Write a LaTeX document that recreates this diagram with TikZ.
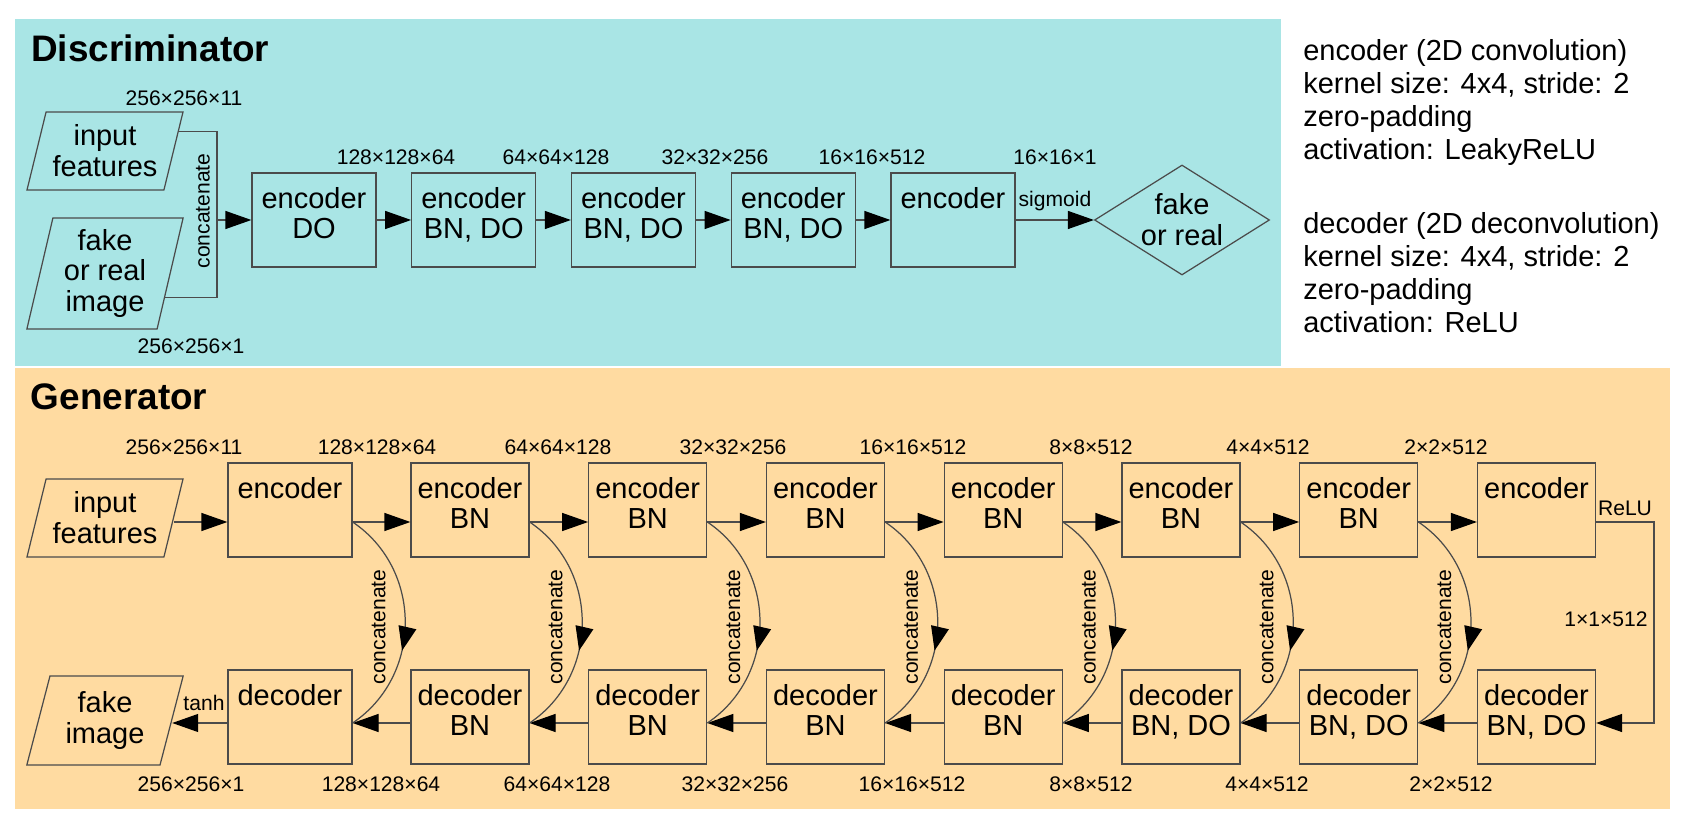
\documentclass[tikz,border=0pt]{standalone}
\usepackage{fontspec}
\setmainfont{Liberation Sans}
\usetikzlibrary{shapes.geometric,arrows.meta,decorations.markings}

\definecolor{discfill}{RGB}{169,229,229}
\definecolor{genfill}{RGB}{255,219,161}
\definecolor{edgegray}{RGB}{75,75,75}

\begin{document}
\begin{tikzpicture}[x=1cm,y=1cm,
    every node/.style={font=\fontsize{16.5}{17.6}\selectfont, inner sep=0pt},
    block/.style={draw=edgegray, line width=0.7pt, align=center,
      minimum width=2.36cm, minimum height=1.88cm,
      execute at end node={\rule[-0.28cm]{0pt}{0pt}}},
    wideblock/.style={block, minimum width=2.48cm},
    slanted/.style={draw=edgegray, line width=0.7pt, align=center,
      trapezium, trapezium stretches=true, minimum width=3.14cm},
    dim/.style={font=\fontsize{12}{13}\selectfont},
    conn/.style={draw=edgegray, line width=0.7pt},
    arr/.style={conn, -{Triangle[length=0.52cm,width=0.36cm,color=black]}},
    skip/.style={conn, postaction={decorate}, decoration={markings,
      mark=at position 0.62 with {\arrow{Triangle[length=0.48cm,width=0.36cm,color=black]}}}}]
    \useasboundingbox (0,0) rectangle (33.84,16.48);
    \fill[discfill] (0.30,9.16) rectangle (25.62,16.10);
    \fill[genfill] (0.30,0.30) rectangle (33.40,9.12);

    % discriminator
    \node[anchor=west, font=\fontsize{21}{24}\selectfont\bfseries] (titleD) at (0.62,15.51) {Discriminator};
    \node[slanted, trapezium left angle=72, trapezium right angle=108, minimum height=1.56cm] (inpD) at (2.10,13.46) {input\\features};
    \node[slanted, trapezium left angle=77, trapezium right angle=103, minimum height=2.22cm] (imgD) at (2.10,11.01) {fake\\or real\\image};
    \node[wideblock] (encD1) at (6.28,12.08) {encoder\\DO};
    \node[wideblock] (encD2) at (9.475,12.08) {encoder\\BN, DO};
    \node[wideblock] (encD3) at (12.67,12.08) {encoder\\BN, DO};
    \node[wideblock] (encD4) at (15.865,12.08) {encoder\\BN, DO};
    \node[wideblock] (encD5) at (19.06,12.08) {encoder\\\phantom{DO}};
    \node[diamond, aspect=1.6, draw=edgegray, line width=0.7pt, align=center,
      minimum width=3.5cm, minimum height=2.2cm] (fakeD) at (23.64,12.08) {fake\\or real};
    \coordinate (catD) at (4.34,12.08);
    \draw[conn] (inpD.15) -| (catD) |- (imgD.-22);
    \node[dim, rotate=90] (catLD) at (4.06,12.26) {concatenate};
    \draw[arr] (catD) -- (encD1);
    \draw[arr] (encD1) -- (encD2);
    \draw[arr] (encD2) -- (encD3);
    \draw[arr] (encD3) -- (encD4);
    \draw[arr] (encD4) -- (encD5);
    \draw[arr] (encD5) -- (fakeD);
    \node[dim] (sigD) at (21.10,12.46) {sigmoid};
    \node[dim] (dimD0) at (3.68,14.52) {256×256×11};
    \node[dim] (dimDi) at (3.82,9.56) {256×256×1};
    \node[dim] (dimD1) at (7.92,13.34) {128×128×64};
    \node[dim] (dimD2) at (11.12,13.34) {64×64×128};
    \node[dim] (dimD3) at (14.30,13.34) {32×32×256};
    \node[dim] (dimD4) at (17.44,13.34) {16×16×512};
    \node[dim] (dimD5) at (21.10,13.34) {16×16×1};

    % layer notes
    \node[anchor=north west, align=left, font=\fontsize{16.5}{18.8}\selectfont] (encNote) at (26.06,15.70)
      {encoder (2D convolution)\\kernel size: 4x4, stride: 2\\zero-padding\\activation: LeakyReLU};
    \node[anchor=north west, align=left, font=\fontsize{16.5}{18.8}\selectfont] (decNote) at (26.06,12.24)
      {decoder (2D deconvolution)\\kernel size: 4x4, stride: 2\\zero-padding\\activation: ReLU};

    % generator
    \node[anchor=west, font=\fontsize{21}{24}\selectfont\bfseries] (titleG) at (0.61,8.54) {Generator};
    \node[slanted, trapezium left angle=72, trapezium right angle=108, minimum height=1.56cm] (inpG) at (2.10,6.12) {input\\features};
    \node[slanted, trapezium left angle=74, trapezium right angle=106, minimum height=1.78cm] (imgG) at (2.10,2.07) {fake\\image};
    \node[wideblock] (encG1) at (5.80,6.28) {encoder\\\phantom{BN}};
    \node[block] (encG2) at (9.40,6.28) {encoder\\BN};
    \node[block] (encG3) at (12.955,6.28) {encoder\\BN};
    \node[block] (encG4) at (16.51,6.28) {encoder\\BN};
    \node[block] (encG5) at (20.065,6.28) {encoder\\BN};
    \node[block] (encG6) at (23.62,6.28) {encoder\\BN};
    \node[block] (encG7) at (27.175,6.28) {encoder\\BN};
    \node[block] (encG8) at (30.73,6.28) {encoder\\\phantom{BN}};
    \node[wideblock] (decG1) at (5.80,2.14) {decoder\\\phantom{BN}};
    \node[block] (decG2) at (9.40,2.14) {decoder\\BN};
    \node[block] (decG3) at (12.955,2.14) {decoder\\BN};
    \node[block] (decG4) at (16.51,2.14) {decoder\\BN};
    \node[block] (decG5) at (20.065,2.14) {decoder\\BN};
    \node[block] (decG6) at (23.62,2.14) {decoder\\BN, DO};
    \node[block] (decG7) at (27.175,2.14) {decoder\\BN, DO};
    \node[block] (decG8) at (30.73,2.14) {decoder\\BN, DO};

    \draw[arr] ([yshift=-0.24cm]encG1.west -| inpG.east) -- ([yshift=-0.24cm]encG1.west);
    \draw[arr] ([yshift=-0.12cm]decG1.west) -- ([yshift=-0.12cm]decG1.west -| imgG.east);
    \foreach \i [count=\j from 2] in {1,...,7}{
      \draw[arr] ([yshift=-0.24cm]encG\i.east) -- ([yshift=-0.24cm]encG\j.west);
      \draw[arr] ([yshift=-0.12cm]decG\j.west) -- ([yshift=-0.12cm]decG\i.east);
      \draw[skip] ([yshift=-0.24cm]encG\i.east) to[bend left=56, looseness=1.08] ([yshift=-0.12cm]decG\i.east);
      \node[dim, rotate=90] (catG\i) at ([shift={(0.52,-2.34)}]encG\i.east) {concatenate};
    }
    \coordinate (reluC) at (33.08,4.00);
    \draw[arr] ([yshift=-0.24cm]encG8.east) -| (reluC) |- ([yshift=-0.12cm]decG8.east);
    \node[dim] (reluG) at (32.50,6.32) {ReLU};
    \node[dim, anchor=east] (dimG9) at (32.96,4.10) {1×1×512};
    \node[dim] (tanhG) at (4.08,2.42) {tanh};

    \node[dim] (dimGt0) at (3.68,7.54) {256×256×11};
    \node[dim] (dimGt1) at (7.54,7.54) {128×128×64};
    \node[dim] (dimGt2) at (11.16,7.54) {64×64×128};
    \node[dim] (dimGt3) at (14.66,7.54) {32×32×256};
    \node[dim] (dimGt4) at (18.26,7.54) {16×16×512};
    \node[dim] (dimGt5) at (21.82,7.54) {8×8×512};
    \node[dim] (dimGt6) at (25.36,7.54) {4×4×512};
    \node[dim] (dimGt7) at (28.92,7.54) {2×2×512};
    \node[dim] (dimGb0) at (3.82,0.80) {256×256×1};
    \node[dim] (dimGb1) at (7.62,0.80) {128×128×64};
    \node[dim] (dimGb2) at (11.14,0.80) {64×64×128};
    \node[dim] (dimGb3) at (14.70,0.80) {32×32×256};
    \node[dim] (dimGb4) at (18.24,0.80) {16×16×512};
    \node[dim] (dimGb5) at (21.82,0.80) {8×8×512};
    \node[dim] (dimGb6) at (25.34,0.80) {4×4×512};
    \node[dim] (dimGb7) at (29.02,0.80) {2×2×512};
  \end{tikzpicture}
\end{document}
